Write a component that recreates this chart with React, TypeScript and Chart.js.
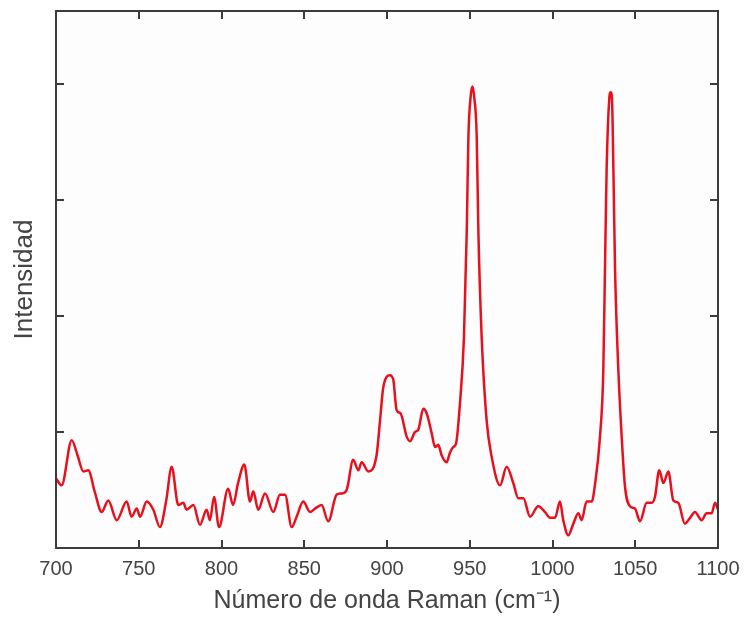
import React, { useEffect, useRef } from "react";
import { Chart, registerables } from "chart.js";

Chart.register(...registerables);

const wavenumbers: number[] = [
  700, 703.4, 709.5, 713, 716.5, 719.5, 723.5, 727.6, 731.6, 736.7, 742.7, 745.7, 748.8, 750.8, 754.8, 758.8,
  762.8, 766.5, 769.9, 773.9, 776.9, 778.9, 783, 787, 791, 793, 795.5, 798.5, 804, 807, 810, 813.8, 817.2,
  819.2, 822.2, 826.3, 831.3, 835.3, 838.4, 842.4, 845.4, 849.4, 853.5, 856.5, 860.5, 864.5, 869.6, 872.6,
  875.6, 879.6, 882.7, 884.7, 888.7, 893.7, 895.8, 897.8, 901.8, 903.8, 905.8, 908.2, 911.9, 913.9, 916.9,
  918.9, 921.9, 924, 927, 929, 931, 933, 936, 938, 940, 941.7, 944.1, 946.5, 948.2, 949.2, 950.6, 951.6,
  952.6, 954.2, 955.2, 957.2, 960.2, 963.2, 968.3, 972.3, 976.3, 979.3, 982.4, 986.4, 991.4, 995.5, 998.5,
  1001.5, 1004.5, 1006.5, 1009.5, 1012.6, 1015.6, 1017.6, 1020.6, 1023.7, 1025.7, 1028.7, 1030.7, 1031.7,
  1032.7, 1034.2, 1035.2, 1036.0, 1036.8, 1037.8, 1039.8, 1041.8, 1043.8, 1046.8, 1049.8, 1052.9, 1056.9,
  1059.9, 1061.9, 1064.5, 1067, 1070, 1073, 1076, 1080, 1083.1, 1086.1, 1090.1, 1093.1, 1096.2, 1098.2, 1100,
];

const intensity: number[] = [
  0.6, 0.54, 0.93, 0.8, 0.66, 0.67, 0.48, 0.31, 0.41, 0.24, 0.4, 0.27, 0.34, 0.27, 0.4, 0.33,
  0.18, 0.4, 0.7, 0.37, 0.39, 0.33, 0.37, 0.2, 0.33, 0.24, 0.44, 0.18, 0.51, 0.37, 0.56, 0.72, 0.4,
  0.49, 0.33, 0.47, 0.31, 0.46, 0.46, 0.18, 0.27, 0.4, 0.31, 0.34, 0.37, 0.23, 0.46, 0.47,
  0.5, 0.76, 0.67, 0.74, 0.66, 0.8, 1.1, 1.39, 1.49, 1.45, 1.19, 1.16, 0.96, 0.92, 1.0,
  1.02, 1.2, 1.16, 0.99, 0.87, 0.89, 0.8, 0.74, 0.82, 0.87, 0.9, 1.25, 1.82, 2.74, 3.55, 3.9, 3.98,
  3.9, 3.55, 2.74, 1.82, 1.1, 0.79, 0.54, 0.7, 0.56, 0.43, 0.43, 0.27, 0.36, 0.31, 0.26,
  0.26, 0.4, 0.24, 0.11, 0.21, 0.3, 0.24, 0.4, 0.4, 0.55, 0.96, 1.53,
  2.4, 3.26, 3.85, 3.93, 3.85, 3.26, 2.4, 1.53, 0.96, 0.53, 0.36, 0.34, 0.23, 0.39,
  0.39, 0.44, 0.67, 0.56, 0.66, 0.41, 0.39, 0.21, 0.26, 0.31, 0.24, 0.3, 0.3, 0.39, 0.33,
];

const xTicks: number[] = [700, 750, 800, 850, 900, 950, 1000, 1050, 1100];
const yTicks: number[] = [1, 2, 3, 4];
const xTitle = "Número de onda Raman (cm⁻¹)";
const yTitle = "Intensidad";

const frameColor = "#3c3c3c";
const textColor = "#444444";
const fontFamily = "'Liberation Sans', Arial, sans-serif";

const framePlugin = {
  id: "frameTicks",
  beforeDatasetsDraw(chart: any) {
    const { ctx, chartArea } = chart;
    ctx.save();
    ctx.fillStyle = "#fdfdfd";
    ctx.fillRect(chartArea.left, chartArea.top, chartArea.right - chartArea.left, chartArea.bottom - chartArea.top);
    ctx.restore();
  },
  afterDatasetsDraw(chart: any) {
    const { ctx, chartArea, scales } = chart;
    const { left, right, top, bottom } = chartArea;
    const len = 8;
    ctx.save();
    ctx.strokeStyle = frameColor;
    ctx.lineWidth = 2;
    ctx.strokeRect(left, top, right - left, bottom - top);
    ctx.beginPath();
    xTicks.forEach((v) => {
      const px = Math.round(scales.x.getPixelForValue(v));
      ctx.moveTo(px, bottom);
      ctx.lineTo(px, bottom - len);
      ctx.moveTo(px, top);
      ctx.lineTo(px, top + len);
    });
    yTicks.forEach((v) => {
      const py = Math.round(scales.y.getPixelForValue(v));
      ctx.moveTo(left, py);
      ctx.lineTo(left + len, py);
      ctx.moveTo(right, py);
      ctx.lineTo(right - len, py);
    });
    ctx.stroke();
    ctx.restore();
  },
};

export default function App() {
  const canvasRef = useRef<HTMLCanvasElement>(null);

  useEffect(() => {
    if (!canvasRef.current) return;
    const points = wavenumbers.map((x, i) => ({ x, y: intensity[i] }));
    const chart = new Chart(canvasRef.current, {
      type: "line",
      data: {
        datasets: [
          {
            data: points,
            borderColor: "#e8101c",
            borderWidth: 2.5,
            pointRadius: 0,
            fill: false,
            cubicInterpolationMode: "monotone",
          },
        ],
      },
      options: {
        animation: false,
        responsive: false,
        maintainAspectRatio: false,
        layout: { padding: { left: 0, right: 27, top: 11, bottom: 0 } },
        plugins: { legend: { display: false }, tooltip: { enabled: false } },
        scales: {
          x: {
            type: "linear",
            min: 700,
            max: 1100,
            afterBuildTicks: (scale: any) => {
              scale.ticks = xTicks.map((v) => ({ value: v }));
            },
            afterFit: (scale: any) => {
              scale.height = 69;
              scale.paddingLeft = 0;
              scale.paddingRight = 0;
            },
            grid: { display: false, drawTicks: false },
            border: { display: false },
            ticks: {
              padding: 9,
              color: textColor,
              font: { family: fontFamily, size: 20 },
              maxRotation: 0,
              autoSkip: false,
              callback: (v: any) => String(v),
            },
            title: {
              display: true,
              text: xTitle,
              color: textColor,
              font: { family: fontFamily, size: 25 },
              padding: { top: 0, bottom: 1 },
            },
          },
          y: {
            type: "linear",
            min: 0,
            max: 4.63,
            afterFit: (scale: any) => {
              scale.width = 56;
            },
            grid: { display: false, drawTicks: false },
            border: { display: false },
            ticks: { display: false },
            title: {
              display: true,
              text: yTitle,
              color: textColor,
              font: { family: fontFamily, size: 26 },
              padding: { top: 9, bottom: 0 },
            },
          },
        },
      },
      plugins: [framePlugin],
    } as any);
    return () => chart.destroy();
  }, []);

  return (
    <div style={{ position: "fixed", left: 0, top: 0, width: 745, height: 617, background: "#ffffff" }}>
      <canvas ref={canvasRef} width={745} height={617} style={{ width: 745, height: 617, display: "block" }} />
    </div>
  );
}
